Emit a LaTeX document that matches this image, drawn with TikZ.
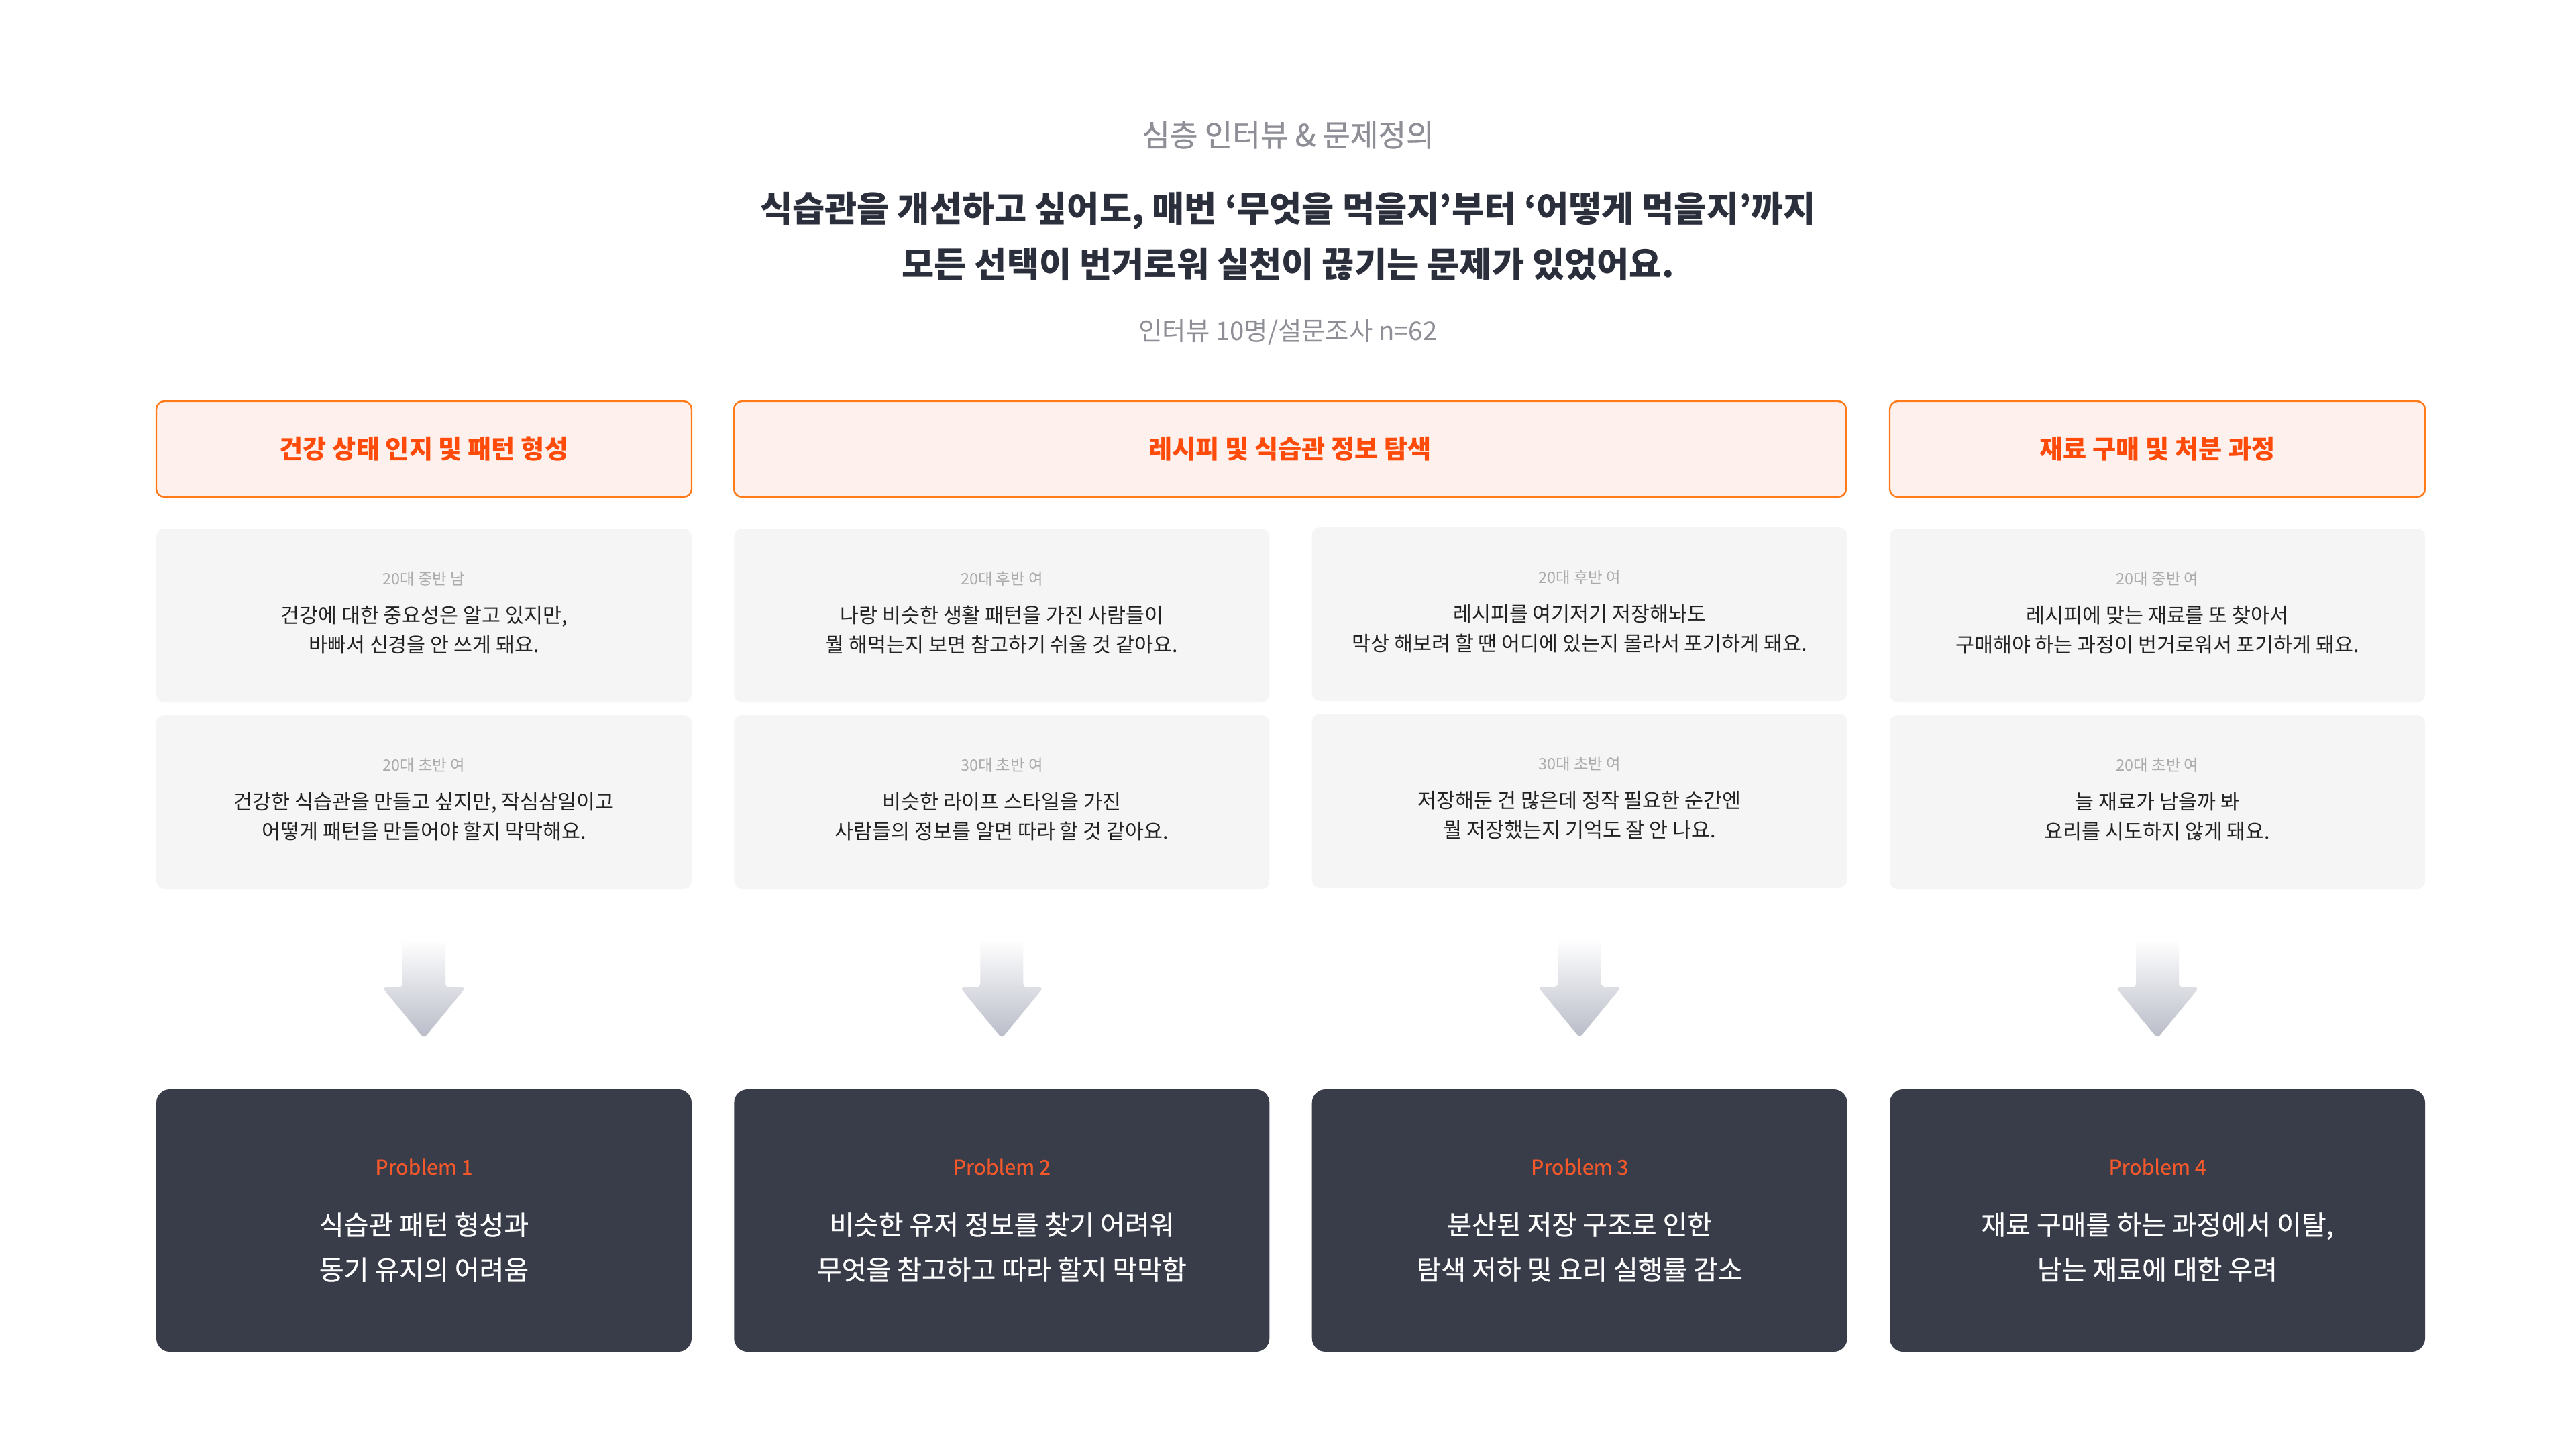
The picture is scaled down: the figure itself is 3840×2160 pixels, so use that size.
\documentclass[tikz,border=0pt]{standalone}
\usepackage{fontspec}
\setmainfont{Noto Sans CJK KR}
\newfontfamily\krmed{Noto Sans CJK KR}[FakeBold=0.6]
\usetikzlibrary{calc}
\definecolor{hdrtext}{HTML}{FF4B0A}
\definecolor{hdrborder}{HTML}{FF7A1A}
\definecolor{hdrfill}{HTML}{FEF0EC}
\definecolor{cardfill}{HTML}{F5F5F5}
\definecolor{darkbox}{HTML}{393C49}
\definecolor{problem}{HTML}{F5592B}
\definecolor{titlec}{HTML}{2B2E3B}
\definecolor{subc}{HTML}{8E8F96}
\definecolor{agec}{HTML}{ABABAB}
\definecolor{quotec}{HTML}{222222}
\definecolor{arrowc}{HTML}{B9BCC8}
\tikzset{
  hdrbox/.style={draw=hdrborder, line width=0.6pt, fill=hdrfill, rounded corners=3pt,
    minimum height=35.75pt, inner sep=0pt, outer sep=0pt, text=hdrtext,
    font=\bfseries\fontsize{9.55}{10}\selectfont},
  cardbox/.style={fill=cardfill, rounded corners=3pt, minimum width=199.5pt,
    minimum height=64.75pt, inner sep=0pt, outer sep=0pt},
  agetxt/.style={text=agec, font=\fontsize{5.85}{6.5}\selectfont, inner sep=0pt},
  quotetxt/.style={text=quotec, align=center, font=\fontsize{7.6}{11}\selectfont, inner sep=0pt},
  probbox/.style={fill=darkbox, rounded corners=5pt, minimum width=199.5pt,
    minimum height=97.75pt, inner sep=0pt, outer sep=0pt},
  problabel/.style={text=problem, font=\krmed\fontsize{7.6}{9}\selectfont, inner sep=0pt},
  probtxt/.style={text=white, align=center, font=\krmed\fontsize{10}{16.75}\selectfont, inner sep=0pt},
  downarrow/.pic={\shade[top color=white, bottom color=arrowc, rounded corners=1.5pt]
    (-32,0) -- (-32,72) -- (-62,72) -- (0,148) -- (62,72) -- (32,72) -- (32,0) -- cycle;}
}
\newcommand\qcard[5]{%
  \node[cardbox, anchor=north] (#1) at (#2,#3) {};
  \node[agetxt] (#1a) at ($(#1.north)+(0,75)$) {#4};
  \node[quotetxt] (#1q) at ($(#1.north)+(0,151)$) {#5};
}
\newcommand\pbox[4]{%
  \node[probbox, anchor=north] (#1) at (#2,1624) {};
  \node[problabel] (#1l) at ($(#1.north)+(0,115)$) {#3};
  \node[probtxt] (#1t) at ($(#1.north)+(0,235)$) {#4};
}
\begin{document}
\begin{tikzpicture}[x=0.25pt,y=-0.25pt]
\useasboundingbox[fill=white] (0,0) rectangle (3840,2160);

% titles
\node[text=subc, font=\krmed\fontsize{11.3}{12}\selectfont, inner sep=0pt] (sub) at (1920,201) {심층 인터뷰 \& 문제정의};
\node[text=titlec, align=center, font=\bfseries\fontsize{13.1}{20.75}\selectfont, inner sep=0pt] (title) at (1920,352.5)
  {식습관을 개선하고 싶어도, 매번 ‘무엇을 먹을지’부터 ‘어떻게 먹을지’까지\\모든 선택이 번거로워 실천이 끊기는 문제가 있었어요.};
\node[text=subc, font=\fontsize{9.6}{10}\selectfont, inner sep=0pt] (stats) at (1920,495) {인터뷰 10명/설문조사 n=62};

% headers
\node[hdrbox, minimum width=199.5pt] (h1) at (632,669.5) {건강 상태 인지 및 패턴 형성};
\node[hdrbox, minimum width=414.5pt] (h2) at (1923,669.5) {레시피 및 식습관 정보 탐색};
\node[hdrbox, minimum width=199.5pt] (h3) at (3216,669.5) {재료 구매 및 처분 과정};

% quote cards
\qcard{c11}{632}{788}{20대 중반 남}{건강에 대한 중요성은 알고 있지만,\\바빠서 신경을 안 쓰게 돼요.}
\qcard{c12}{632}{1066}{20대 초반 여}{건강한 식습관을 만들고 싶지만, 작심삼일이고\\어떻게 패턴을 만들어야 할지 막막해요.}
\qcard{c21}{1493.3}{788}{20대 후반 여}{나랑 비슷한 생활 패턴을 가진 사람들이\\뭘 해먹는지 보면 참고하기 쉬울 것 같아요.}
\qcard{c22}{1493.3}{1066}{30대 초반 여}{비슷한 라이프 스타일을 가진\\사람들의 정보를 알면 따라 할 것 같아요.}
\qcard{c31}{2354.7}{786}{20대 후반 여}{레시피를 여기저기 저장해놔도\\막상 해보려 할 땐 어디에 있는지 몰라서 포기하게 돼요.}
\qcard{c32}{2354.7}{1064}{30대 초반 여}{저장해둔 건 많은데 정작 필요한 순간엔\\뭘 저장했는지 기억도 잘 안 나요.}
\qcard{c41}{3216}{788}{20대 중반 여}{레시피에 맞는 재료를 또 찾아서\\구매해야 하는 과정이 번거로워서 포기하게 돼요.}
\qcard{c42}{3216}{1066}{20대 초반 여}{늘 재료가 남을까 봐\\요리를 시도하지 않게 돼요.}

% problem boxes
\pbox{p1}{632}{Problem 1}{식습관 패턴 형성과\\동기 유지의 어려움}
\pbox{p2}{1493.3}{Problem 2}{비슷한 유저 정보를 찾기 어려워\\무엇을 참고하고 따라 할지 막막함}
\pbox{p3}{2354.7}{Problem 3}{분산된 저장 구조로 인한\\탐색 저하 및 요리 실행률 감소}
\pbox{p4}{3216}{Problem 4}{재료 구매를 하는 과정에서 이탈,\\남는 재료에 대한 우려}

% arrows from cards to problems
\foreach \c/\p in {c12/p1, c22/p2, c32/p3, c42/p4}{
  \coordinate (\c arr) at ($(\c.south)!0.5!(\p.north)+(0,-74.5)$);
  \pic at (\c arr) {downarrow};
}
\end{tikzpicture}
\end{document}
